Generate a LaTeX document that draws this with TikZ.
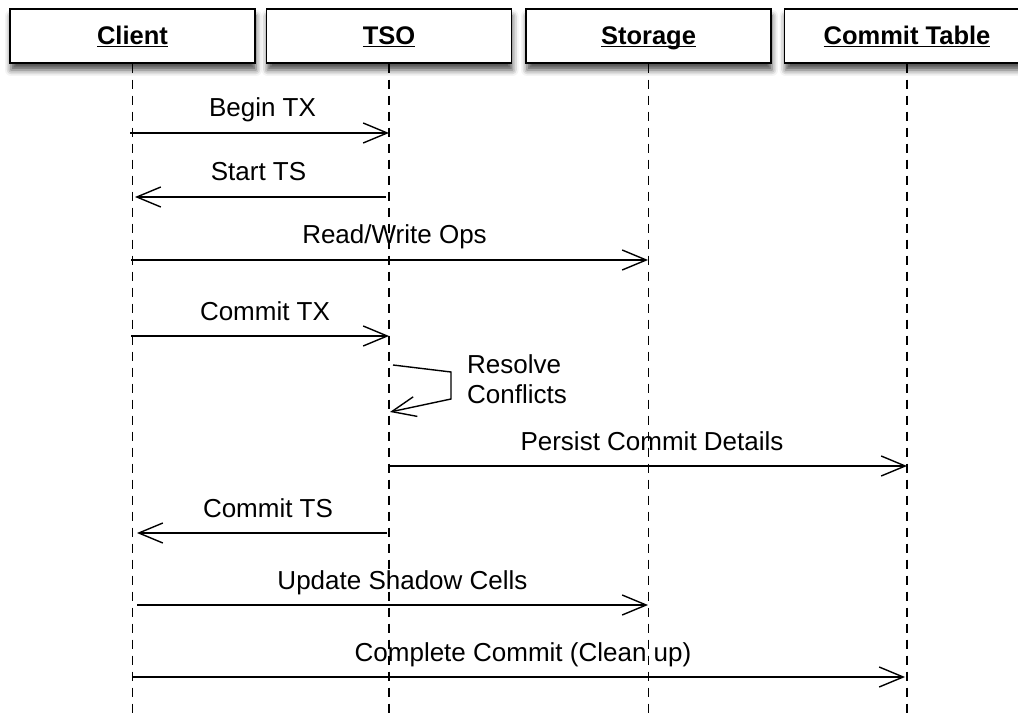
\documentclass[tikz,border=0pt]{standalone}
\usepackage{fontspec}
\setmainfont{Liberation Sans}
\usetikzlibrary{arrows.meta,shadows.blur}

% underlined title with a fixed height and no descender depth
\newcommand{\ultitle}[1]{\underline{\raisebox{0pt}[19pt][0pt]{#1}}}

\tikzset{
  actor/.style={draw, line width=1.3pt, fill=white,
    minimum width=245pt, minimum height=54pt, inner sep=0pt,
    font=\bfseries\fontsize{25.5}{28}\selectfont,
    blur shadow={shadow xshift=1pt, shadow yshift=-7pt,
      shadow blur radius=6pt, shadow opacity=70}},
  lifeline/.style={line width=1.3pt, dash pattern=on 9pt off 7pt},
  msg/.style={line width=1.4pt, -{Straight Barb[length=24pt, width=20pt, line width=1.4pt]}},
  msglabel/.style={midway, anchor=base, yshift=16pt, inner sep=0pt,
    font=\fontsize{26}{30}\selectfont},
  notelabel/.style={anchor=base west, inner sep=0pt,
    font=\fontsize{26}{30}\selectfont}
}

\begin{document}
\begin{tikzpicture}[x=1pt, y=-1pt]
\useasboundingbox (0,0) rectangle (1018,714);
\clip (0,0) rectangle (1018,714);

% participants
\node[actor] (client)  at (132.5,36) {\ultitle{Client}};
\node[actor] (tso)     at (389,36)   {\ultitle{TSO}};
\node[actor] (storage) at (648.5,36) {\ultitle{Storage}};
\node[actor] (ctable)  at (907,36)   {\ultitle{Commit Table}};

% lifeline ends
\coordinate (clientEnd)  at (132.5,714);
\coordinate (tsoEnd)     at (389,714);
\coordinate (storageEnd) at (648.5,714);
\coordinate (ctableEnd)  at (907,714);

\draw[lifeline] (client.south)  -- (clientEnd);
\draw[lifeline] (tso.south)     -- (tsoEnd);
\draw[lifeline] (storage.south) -- (storageEnd);
\draw[lifeline] (ctable.south)  -- (ctableEnd);

% message end points
\coordinate (m1a) at (130,133);   \coordinate (m1b) at (389,133);
\coordinate (m2a) at (386,197);   \coordinate (m2b) at (135,197);
\coordinate (m3a) at (131,260);   \coordinate (m3b) at (648,260);
\coordinate (m4a) at (131,336);   \coordinate (m4b) at (389,336);
\coordinate (s1) at (393,365);    \coordinate (s2) at (451,372);
\coordinate (s3) at (451,399);    \coordinate (s4) at (390,412);
\coordinate (m6a) at (389,466);   \coordinate (m6b) at (907,466);
\coordinate (m7a) at (387,533);   \coordinate (m7b) at (137,533);
\coordinate (m8a) at (137,605);   \coordinate (m8b) at (648,605);
\coordinate (m9a) at (133,677);   \coordinate (m9b) at (905,677);

% messages
\draw[msg] (m1a) -- node[msglabel, xshift=3pt]{Begin TX} (m1b);
\draw[msg] (m2a) -- node[msglabel, xshift=-2pt]{Start TS} (m2b);
\draw[msg] (m3a) -- node[msglabel, xshift=5pt]{Read/Write Ops} (m3b);
\draw[msg] (m4a) -- node[msglabel, xshift=5pt]{Commit TX} (m4b);
\draw[msg] (s1) -- (s2) -- (s3) -- (s4);
\node[notelabel] (resolve)   at (467,373) {Resolve};
\node[notelabel] (conflicts) at (467,403) {Conflicts};
\draw[msg] (m6a) -- node[msglabel, xshift=4pt]{Persist Commit Details} (m6b);
\draw[msg] (m7a) -- node[msglabel, xshift=6pt]{Commit TS} (m7b);
\draw[msg] (m8a) -- node[msglabel, xshift=10pt]{Update Shadow Cells} (m8b);
\draw[msg] (m9a) -- node[msglabel, xshift=4pt]{Complete Commit (Clean up)} (m9b);
\end{tikzpicture}
\end{document}
